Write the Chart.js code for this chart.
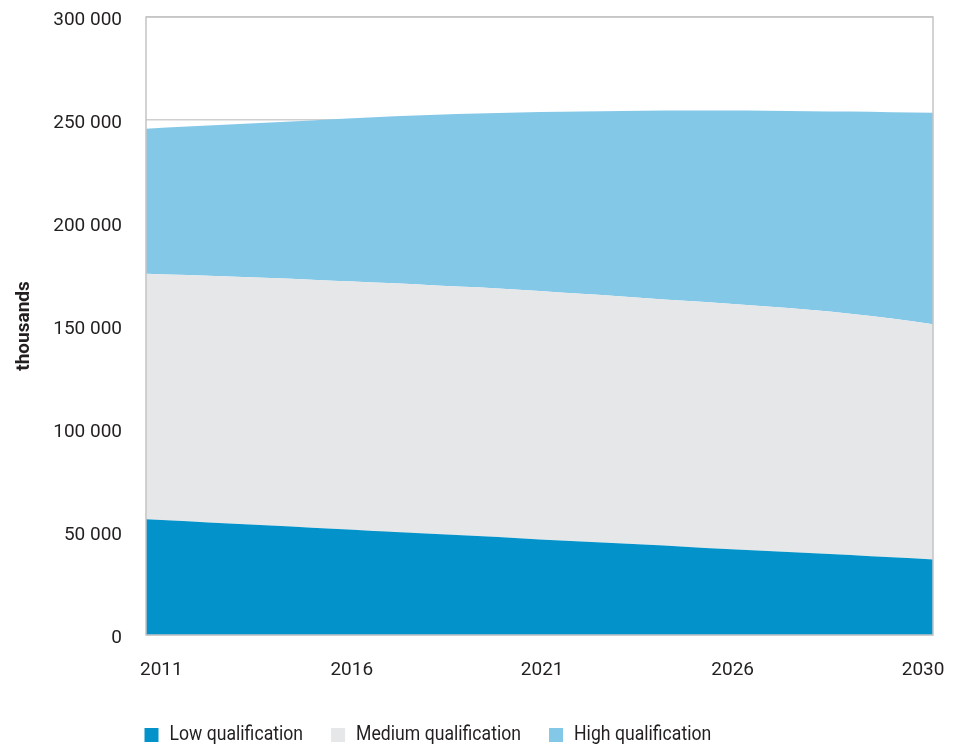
<!DOCTYPE html>
<html>
<head>
<meta charset="utf-8">
<script src="https://cdn.jsdelivr.net/npm/chart.js@4.4.1/dist/chart.umd.min.js"></script>
<style>
  html, body { margin: 0; padding: 0; background: #ffffff; }
  #wrap { width: 954px; height: 754px; position: relative; }
</style>
</head>
<body>
<div id="wrap"><canvas id="c" width="954" height="754"></canvas></div>
<script>
// ---- data (thousands) ----
const years = [2011,2012,2013,2014,2015,2016,2017,2018,2019,2020,2021,2022,2023,2024,2025,2026,2027,2028,2029,2030];
const lowQualification = [56200,55200,54100,53100,52100,51100,50000,49000,48000,47000,45900,44900,43900,42900,41800,40800,39800,38800,37700,36700];
const mediumQualification = [119200,119500,119900,120200,120400,120500,120700,120700,120800,120600,120400,120100,119700,119300,119100,118700,118100,117200,115900,114100];
const highQualification = [70400,72100,73800,75500,77300,79200,81100,82900,84400,86100,87700,89300,90900,92400,93700,95000,96400,98100,100200,102700];
const seriesLabels = ['Low qualification', 'Medium qualification', 'High qualification'];
const xTickLabels = ['2011', '2016', '2021', '2026', '2030'];
const yAxisTitle = 'thousands';

const FONT = "Roboto, 'Liberation Sans', sans-serif";
const TEXT = '#231f20';
const colors = ['#0392c9', '#e6e7e8', '#84c8e8'];

function pts(arr) { return arr.map((v, i) => ({ x: years[i], y: v })); }

const frame = {
  id: 'frame',
  afterDatasetsDraw(chart) {
    const a = chart.chartArea, ctx = chart.ctx;
    ctx.save();
    ctx.strokeStyle = '#c4c4c4';
    ctx.lineWidth = 1.5;
    ctx.strokeRect(a.left, a.top, a.right - a.left, a.bottom - a.top);
    ctx.restore();
  }
};

const customLegend = {
  id: 'customLegend',
  afterDraw(chart) {
    const ctx = chart.ctx;
    const a = chart.chartArea;
    const squeeze = 0.84;
    ctx.save();
    ctx.font = "21px " + FONT;
    ctx.textBaseline = 'middle';
    ctx.textAlign = 'left';
    let x = a.left - 1.5;
    const cy = 735;
    const box = 14;
    chart.data.datasets.forEach(ds => {
      ctx.fillStyle = ds.backgroundColor;
      ctx.fillRect(x, cy - box / 2, box, box);
      ctx.fillStyle = TEXT;
      const tx = x + box + 11;
      ctx.save();
      ctx.translate(tx, cy);
      ctx.scale(squeeze, 1);
      ctx.fillText(ds.label, 0, 0);
      ctx.restore();
      x = tx + ctx.measureText(ds.label).width * squeeze + 28;
    });
    ctx.restore();
  }
};

new Chart(document.getElementById('c'), {
  type: 'line',
  data: {
    datasets: [
      { label: seriesLabels[0], data: pts(lowQualification), backgroundColor: colors[0], fill: 'origin' },
      { label: seriesLabels[1], data: pts(mediumQualification), backgroundColor: colors[1], fill: '-1' },
      { label: seriesLabels[2], data: pts(highQualification), backgroundColor: colors[2], fill: '-1' }
    ]
  },
  options: {
    responsive: false,
    animation: false,
    layout: { padding: { top: 17, right: 21, left: 0, bottom: 0 } },
    elements: {
      line: { borderWidth: 0, borderColor: 'rgba(0,0,0,0)', cubicInterpolationMode: 'monotone' },
      point: { radius: 0, hoverRadius: 0 }
    },
    plugins: {
      legend: { display: false },
      tooltip: { enabled: false },
      filler: { propagate: false }
    },
    scales: {
      x: {
        type: 'linear',
        min: 2011,
        max: 2030,
        grid: { display: false, drawTicks: false },
        border: { display: false },
        afterBuildTicks(scale) {
          const first = scale.min + 0.37, last = scale.max - 0.24;
          const n = xTickLabels.length;
          scale.ticks = xTickLabels.map((l, i) => ({ value: first + (last - first) * i / (n - 1) }));
        },
        ticks: {
          autoSkip: false,
          maxRotation: 0,
          padding: 24,
          color: TEXT,
          font: { family: FONT, size: 19 },
          callback: (v, i) => xTickLabels[i]
        },
        afterFit(scale) {
          scale.height = 119;
          scale.paddingLeft = 0;
          scale.paddingRight = 0;
        }
      },
      y: {
        stacked: true,
        min: 0,
        max: 300000,
        grid: { color: '#cfcfcf', lineWidth: 1.5, drawTicks: false },
        border: { display: false },
        ticks: {
          stepSize: 50000,
          padding: 24,
          labelOffset: 3,
          color: TEXT,
          font: { family: FONT, size: 19 },
          callback: v => String(v).replace(/\B(?=(\d{3})+(?!\d))/g, ' ')
        },
        title: {
          display: true,
          text: yAxisTitle,
          color: TEXT,
          font: { family: FONT, size: 19, weight: 'bold' },
          padding: { top: 13, bottom: 0 }
        },
        afterFit(scale) {
          scale.width = 146;
          scale.paddingTop = 0;
          scale.paddingBottom = 0;
        }
      }
    }
  },
  plugins: [frame, customLegend]
});
</script>
</body>
</html>
